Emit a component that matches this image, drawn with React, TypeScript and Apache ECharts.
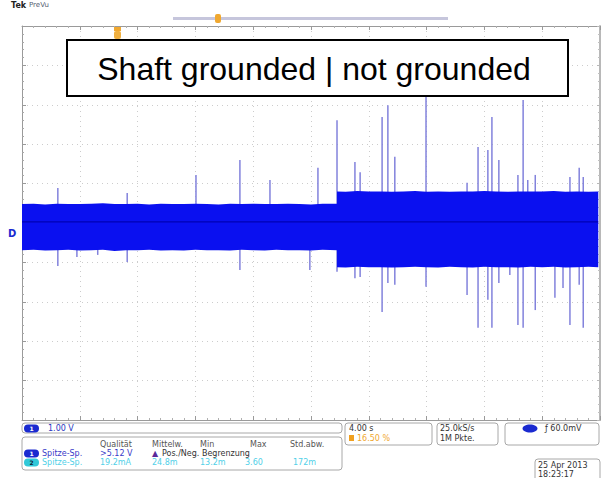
import React, { useEffect, useRef } from "react";
import * as echarts from "echarts";

// Oscilloscope screen: x and y in divisions (10 x 10 graticule, centred on 0)
const groundedX = [-5.0, -4.8, -4.6, -4.4, -4.2, -4.0, -3.8, -3.6, -3.4, -3.2, -3.0, -2.8, -2.6, -2.4, -2.2, -2.0, -1.8, -1.6, -1.4, -1.2, -1.0, -0.8, -0.6, -0.4, -0.2, 0.0, 0.2, 0.45];
const groundedTop = [0.48, 0.49, 0.47, 0.49, 0.48, 0.48, 0.49, 0.5, 0.48, 0.48, 0.49, 0.47, 0.49, 0.48, 0.48, 0.49, 0.48, 0.47, 0.49, 0.48, 0.49, 0.48, 0.48, 0.49, 0.48, 0.47, 0.49, 0.49];
const groundedBottom = [-0.69, -0.68, -0.7, -0.69, -0.68, -0.7, -0.69, -0.68, -0.71, -0.69, -0.69, -0.68, -0.7, -0.69, -0.7, -0.68, -0.69, -0.69, -0.7, -0.68, -0.69, -0.7, -0.68, -0.69, -0.69, -0.7, -0.68, -0.69];

const openX = [0.45, 0.6, 0.8, 1.0, 1.2, 1.4, 1.6, 1.8, 2.0, 2.2, 2.4, 2.6, 2.8, 3.0, 3.2, 3.4, 3.6, 3.8, 4.0, 4.2, 4.4, 4.6, 4.8, 4.97];
const openTop = [0.8, 0.79, 0.81, 0.8, 0.8, 0.79, 0.8, 0.81, 0.79, 0.8, 0.79, 0.8, 0.8, 0.81, 0.8, 0.79, 0.8, 0.8, 0.8, 0.81, 0.79, 0.8, 0.79, 0.8];
const openBottom = [-1.12, -1.13, -1.11, -1.12, -1.12, -1.13, -1.12, -1.11, -1.12, -1.13, -1.11, -1.12, -1.13, -1.11, -1.12, -1.12, -1.13, -1.11, -1.12, -1.11, -1.13, -1.12, -1.11, -1.12];

const spikeX = [-4.38, -4.05, -3.69, -3.18, -1.99, -1.23, -0.71, -0.02, 0.12, 0.45, 0.76, 0.85, 1.23, 1.33, 1.45, 1.99, 2.7, 2.89, 3.06, 3.13, 3.25, 3.44, 3.58, 3.67, 3.75, 3.88, 4.22, 4.36, 4.48, 4.64, 4.71];
const spikeHigh = [0.89, 0.4, 0.4, 0.76, 1.22, 1.6, 1.09, 0.4, 1.4, 2.61, 1.55, 1.29, 2.69, 2.99, 1.68, 3.2, 1.02, 1.93, 1.85, 2.69, 1.6, 0.7, 1.22, 3.12, 1.09, 1.22, 0.7, 0.7, 1.17, 1.4, 1.17];
const spikeLow = [-1.09, -0.86, -0.81, -0.99, -0.6, -1.19, -0.6, -1.19, -0.6, -1.24, -1.4, -1.37, -2.26, -1.52, -1.57, -1.62, -1.83, -2.66, -1.95, -2.66, -1.52, -1.32, -2.59, -2.66, -1.0, -2.21, -1.9, -1.65, -2.59, -1.57, -2.66];

const centreLevel = 0.03;

const headerLabels = ["Qualität", "Mittelw.", "Min", "Max", "Std.abw."];
const ch1Row = ["Spitze-Sp.", ">5.12 V"];
const ch2Row = ["Spitze-Sp.", "19.2mA", "24.8m", "13.2m", "3.60", "172m"];

const FONT = "DejaVu Sans";
const BLUE = "#0a10f0";

function bandItem(xs: number[], top: number[], bottom: number[]) {
  return (params: any, api: any) => {
    const pts: number[][] = [];
    for (let i = 0; i < xs.length; i++) pts.push(api.coord([xs[i], top[i]]));
    for (let i = xs.length - 1; i >= 0; i--) pts.push(api.coord([xs[i], bottom[i]]));
    return { type: "polygon", shape: { points: pts }, style: { fill: BLUE } };
  };
}

function badge(x: number, y: number, fill: string, label: string, color: string) {
  return [
    { type: "rect", shape: { x, y, width: 15, height: 8, r: 4 }, style: { fill }, z: 110 },
    { type: "text", x: x + 7.5, y: y + 4, style: { text: label, fill: color, font: `bold 6px ${FONT}`, align: "center", verticalAlign: "middle" }, z: 111 },
  ];
}

function txt(x: number, y: number, text: string, fill: string, size = 8, weight = "normal") {
  return { type: "text", x, y, style: { text, fill, font: `${weight} ${size}px ${FONT}`, verticalAlign: "middle" }, z: 100 };
}

function box(x: number, y: number, w: number, h: number) {
  return { type: "rect", shape: { x, y, width: w, height: h, r: 3 }, style: { fill: "#fff", stroke: "#a8a8a8", lineWidth: 1 }, z: 90 };
}

export default function App() {
  const ref = useRef<HTMLDivElement>(null);
  useEffect(() => {
    if (!ref.current) return;
    const chart = echarts.init(ref.current, null, { renderer: "svg" });
    const grid = "#cccccc";
    const headerX = [100, 152, 200, 250, 290];
    const ch2X = [42, 100, 152, 200, 245, 293];
    const option: any = {
      animation: false,
      backgroundColor: "#ffffff",
      grid: { left: 22, right: 5, top: 26, bottom: 58 },
      xAxis: [
        {
          type: "value", min: -5, max: 5, interval: 1, position: "bottom",
          axisLine: { show: true, onZero: false, lineStyle: { color: "#9a9a9a" } },
          axisTick: { show: true, inside: true, length: 4, lineStyle: { color: "#9a9a9a" } },
          minorTick: { show: true, splitNumber: 5, length: 2, lineStyle: { color: "#b0b0b0" } },
          axisLabel: { show: false },
          splitLine: { show: true, lineStyle: { color: grid, type: [1, 4] } },
        },
        {
          type: "value", min: -5, max: 5, interval: 1, position: "top",
          axisLine: { show: true, onZero: false, lineStyle: { color: "#9a9a9a" } },
          axisTick: { show: true, inside: true, length: 4, lineStyle: { color: "#9a9a9a" } },
          minorTick: { show: true, splitNumber: 5, length: 2, lineStyle: { color: "#b0b0b0" } },
          axisLabel: { show: false },
          splitLine: { show: false },
        },
      ],
      yAxis: [
        {
          type: "value", min: -5, max: 5, interval: 1, position: "left",
          axisLine: { show: true, onZero: false, lineStyle: { color: "#9a9a9a" } },
          axisTick: { show: true, inside: true, length: 4, lineStyle: { color: "#9a9a9a" } },
          minorTick: { show: true, splitNumber: 5, length: 2, lineStyle: { color: "#a8a8a8" } },
          axisLabel: { show: false },
          splitLine: { show: true, lineStyle: { color: grid, type: [1, 4] } },
        },
        {
          type: "value", min: -5, max: 5, interval: 1, position: "right",
          axisLine: { show: true, onZero: false, lineStyle: { color: "#b8b8b8", width: 2 } },
          axisTick: { show: true, inside: true, length: 3, lineStyle: { color: "#b8b8b8" } },
          minorTick: { show: true, splitNumber: 5, length: 2, lineStyle: { color: "#c0c0c0" } },
          axisLabel: { show: false },
          splitLine: { show: false },
        },
      ],
      series: [
        {
          type: "custom",
          name: "spikes",
          xAxisIndex: 0,
          yAxisIndex: 0,
          encode: { x: 0, y: [1, 2] },
          data: spikeX.map((x, i) => [x, spikeLow[i], spikeHigh[i]]),
          renderItem: (params: any, api: any) => {
            const a = api.coord([api.value(0), api.value(1)]);
            const b = api.coord([api.value(0), api.value(2)]);
            return { type: "line", shape: { x1: a[0], y1: a[1], x2: b[0], y2: b[1] }, style: { stroke: "#8282dc", lineWidth: 1.5 } };
          },
        },
        {
          type: "custom", name: "grounded", xAxisIndex: 0, yAxisIndex: 0,
          data: [[groundedX[0], groundedTop[0]]],
          renderItem: bandItem(groundedX, groundedTop, groundedBottom),
        },
        {
          type: "custom", name: "not grounded", xAxisIndex: 0, yAxisIndex: 0,
          data: [[openX[0], openTop[0]]],
          renderItem: bandItem(openX, openTop, openBottom),
        },
        {
          type: "line", name: "centre", xAxisIndex: 0, yAxisIndex: 0, symbol: "none",
          lineStyle: { color: "#0000b4", width: 1.2 },
          data: [[-5, centreLevel], [openX[openX.length - 1], centreLevel]],
        },
      ],
      graphic: [
        // header
        { type: "text", x: 11, y: 5, style: { text: "Tek", fill: "#222", font: `bold 8px ${FONT}`, verticalAlign: "middle" }, z: 100 },
        { type: "text", x: 29, y: 5, style: { text: "PreVu", fill: "#556070", font: `7px ${FONT}`, verticalAlign: "middle" }, z: 100 },
        { type: "rect", shape: { x: 173, y: 17, width: 275, height: 3 }, style: { fill: "#c6c6dc" }, z: 100 },
        { type: "rect", shape: { x: 215, y: 14, width: 6, height: 9, r: 2 }, style: { fill: "#f0a830" }, z: 101 },
        { type: "rect", shape: { x: 114, y: 27, width: 7, height: 4 }, style: { fill: "#f0a830" }, z: 101 },
        { type: "rect", shape: { x: 114, y: 31, width: 7, height: 8, r: 2 }, style: { fill: "#f0b040" }, z: 101 },
        // ch1 ground marker
        { type: "text", x: 8, y: 233, style: { text: "D", fill: "#1a2ad0", font: `bold 10px ${FONT}`, verticalAlign: "middle" }, z: 100 },
        // annotation
        { type: "rect", shape: { x: 67, y: 40, width: 501, height: 56 }, style: { fill: "#fff", stroke: "#000", lineWidth: 2 }, z: 100 },
        { type: "text", x: 314, y: 69, style: { text: "Shaft grounded | not grounded", fill: "#000", font: `32px "Liberation Sans", Arial, sans-serif`, align: "center", verticalAlign: "middle" }, z: 101 },
        // bottom panel
        box(22, 423, 320, 10),
        ...badge(24, 424.5, "#1a2ad0", "1", "#fff"),
        txt(48, 428.5, "1.00 V", "#2a36c0", 8),
        box(22, 437, 320, 33),
        ...headerLabels.map((t, i) => txt(headerX[i], 444, t, "#555", 8)),
        ...badge(24, 449.5, "#1a2ad0", "1", "#fff"),
        txt(42, 453.5, ch1Row[0], "#3a3ac8", 8),
        txt(100, 453.5, ch1Row[1], "#3a3ac8", 8),
        txt(152, 453.5, "▲", "#5a2a9a", 8),
        txt(162, 453.5, "Pos./Neg. Begrenzung", "#333", 8),
        ...badge(24, 458.5, "#30c8d8", "2", "#123"),
        ...ch2Row.map((t, i) => txt(ch2X[i], 462.5, t, "#50d0e8", 8)),
        box(345, 423, 87, 22),
        txt(349, 428.5, "4.00 s", "#333", 8),
        { type: "rect", shape: { x: 349, y: 435, width: 5, height: 6 }, style: { fill: "#f0a020" }, z: 100 },
        txt(357, 438.5, "16.50 %", "#f0a830", 8),
        box(437, 423, 61, 22),
        txt(440, 428.5, "25.0kS/s", "#333", 8),
        txt(440, 438.5, "1M Pkte.", "#333", 8),
        box(505, 423, 94, 22),
        { type: "ellipse", shape: { cx: 530, cy: 428.5, rx: 7.5, ry: 4 }, style: { fill: "#1a2ad0" }, z: 100 },
        txt(545, 428.5, "ƒ 60.0mV", "#333", 8),
        box(535, 459, 65, 26),
        txt(538, 465, "25 Apr 2013", "#333", 8),
        txt(538, 474, "18:23:17", "#333", 8),
      ],
    };
    chart.setOption(option);
    return () => chart.dispose();
  }, []);
  return <div ref={ref} style={{ position: "absolute", left: 0, top: 0, width: 605, height: 478 }} />;
}
